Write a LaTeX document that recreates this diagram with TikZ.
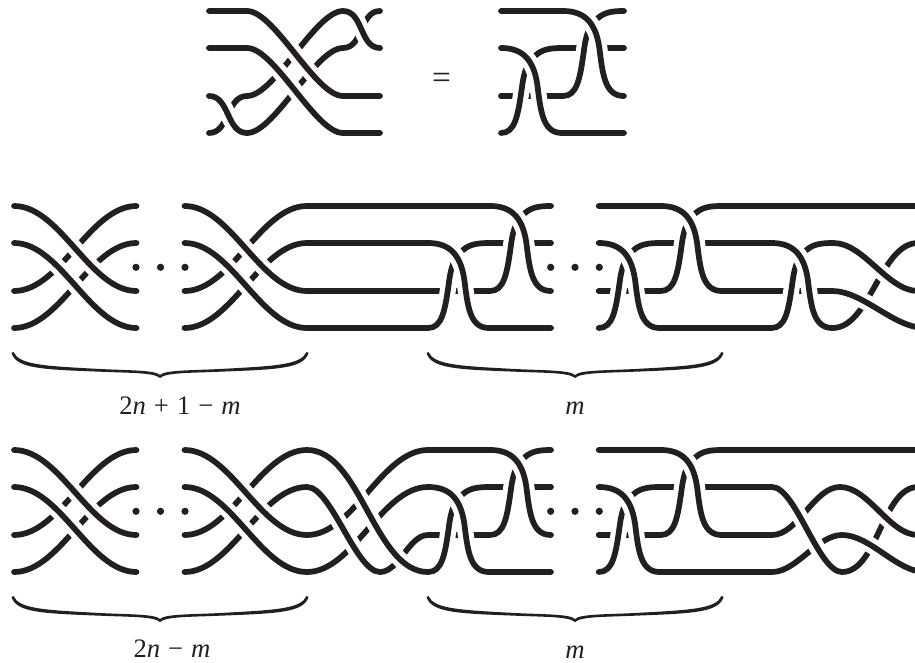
\documentclass[tikz,border=0pt]{standalone}
\usepackage{fontspec}
\setmainfont{Liberation Serif}

\definecolor{ink}{HTML}{231F20}
\newcommand{\strandp}[1]{\draw[halo] #1; \draw[strand] #1;}
\newcommand{\midgap}{\hspace{.3em}}

\tikzset{
  strand/.style={line width=4.3pt, line cap=round, ink},
  halo/.style={line width=12pt, line cap=butt, white},
  sc/.style={out=0, in=180, looseness=.8}, % flat at both ends
  sct/.style={out=0, in=180, looseness=.55}, % the same, for narrow ones
  dotn/.style={circle, fill=ink, inner sep=0pt, minimum size=5.4pt},
  lbl/.style={anchor=base, font=\fontsize{20}{22}\selectfont, text=ink},
  % four strands, two over two
  pics/xlink/.style={code={
    \strandp{(0,85) to[sc] (122.5,0)}
    \strandp{(0,122) to[sc] (122.5,37)}
    \strandp{(0,0) to[sc] (122.5,85)}
    \strandp{(0,37) to[sc] (122.5,122)}
  }},
  pics/gstrand/.style={code={
    \strandp{(0,122) .. controls (14,122) and (17,105) .. (21,76)
      .. controls (23,60) and (27,50) .. (35,44)
      .. controls (42,38) and (50,37) .. (62,37)}
  }},
  pics/fstrand/.style={code={
    \strandp{(0,37) .. controls (22,37) and (34,49) .. (37,79)
      .. controls (40,103) and (43,122) .. (61,122) -- (123,122)}
  }},
  % the steep pair of crossings
  pics/ylink/.style={code={
    \draw[strand] (0,85) -- (62,85);
    \pic {gstrand};
    \draw[strand] (62,37) -- (123,37);
    \strandp{(62,85) .. controls (76,85) and (79,68) .. (83,39)
      .. controls (85,23) and (89,13) .. (97,7)
      .. controls (104,1) and (112,0) .. (123,0)}
    \strandp{(0,0) -- (62,0) .. controls (84,0) and (96,12) .. (99,42)
      .. controls (102,66) and (105,85) .. (123,85)}
    \pic {fstrand};
  }},
  pics/brc/.style={code={
    \foreach \s in {-1,1} {
      \fill[xscale=\s, ink] (0,0) .. controls (-6,-5.5) and (-30,-5) .. (-60,-6.3)
        .. controls (-115,-8.5) and (-144,-9) .. (-148.5,-25)
        -- (-146.5,-26)
        .. controls (-141,-13) and (-115,-12) .. (-60,-9)
        .. controls (-30,-7.5) and (-5,-8) .. (0,-3) -- cycle;
    }
  }},
}

\begin{document}
\begin{tikzpicture}[x=0.75pt, y=-0.75pt]
  \path[use as bounding box, clip] (0,0) rectangle (915,663);

  % top left
  \strandp{(209,133) to[out=0, in=180] (247,96)}
  \strandp{(209,96) to[out=0, in=180] (247,133)}
  \strandp{(247,96) to[sct] (343,11)}
  \strandp{(247,133) to[sct] (343,48)}
  \strandp{(209,11) -- (247,11) to[sct] (343,96) -- (380,96)}
  \strandp{(209,48) -- (247,48) to[sct] (343,133) -- (380,133)}
  \strandp{(343,48) to[out=0, in=180] (380,11)}
  \strandp{(343,11) to[out=0, in=180] (380,48)}

  \node[lbl, font=\fontsize{25}{28}\selectfont] (equal) at (441.5,89) {=};

  % top right
  \pic at (501,11) {ylink};

  % what both long rows share
  \foreach \y in {206,450} {
    \pic at (14,\y) {xlink};
    \pic at (184.5,\y) {xlink};
    \pic at (428,\y) {ylink};
    \pic at (598.7,\y) {ylink};
    \foreach \x in {136,160.5,185,550.7,575,599.3} {
      \node[dotn] (dot\x) at (\x,\y+61.3) {};
    }
    \pic at (160,\y+172) {brc};
    \pic at (575,\y+172) {brc};
    \node[lbl] (lblm\y) at (575,\y+208) {\textit{m}};
  }

  % middle row
  \draw[strand] (307,206) -- (428,206);
  \draw[strand] (307,243) -- (428,243);
  \draw[strand] (307,291) -- (428,291);
  \draw[strand] (307,328) -- (428,328);
  \draw[strand] (721.7,206) -- (920,206);
  \draw[strand] (721.7,243) -- (771.5,243);
  \draw[strand] (721.7,291) -- (832,291);
  \draw[strand] (721.7,328) -- (771.5,328);
  \pic at (771.5,206) {gstrand};
  \strandp{(771.5,243) .. controls (793.5,243) and (805.5,255) .. (808.5,285)
    .. controls (811.5,309) and (814.5,328) .. (832.5,328)}
  \strandp{(832.5,328) to[sc] (918,243)}
  \strandp{(833.5,243) to[sc] (918,291)}
  \strandp{(832,291) to[sc] (925,328)}
  \node[lbl] (lblrowa) at (180,414)
    {2\textit{n}\midgap+\midgap1\midgap−\midgap\textit{m}};

  % bottom row
  \strandp{(307,535) to[sc] (428,450)}
  \strandp{(307,572) to[sc] (428,487)}
  \strandp{(380,572) to[sc] (428,535)}
  \strandp{(307,450) to[sc] (428,572)}
  \strandp{(307,487) to[sct] (380,572)}
  \draw[strand] (721.7,450) -- (920,450);
  \draw[strand] (721.7,487) -- (772,487);
  \draw[strand] (721.7,535) -- (772,535);
  \draw[strand] (721.7,572) -- (772,572);
  \strandp{(772,535) to[sc] (840,487)}
  \strandp{(772,572) to[sc] (842,535)}
  \strandp{(772,487) to[sct] (842,572)}
  \strandp{(842,572) to[sc] (918,487)}
  \strandp{(840,487) to[sc] (918,535)}
  \strandp{(842,535) to[sc] (925,572)}
  \node[lbl] (lblrowb) at (172,657) {2\textit{n}\midgap−\midgap\textit{m}};
\end{tikzpicture}
\end{document}
